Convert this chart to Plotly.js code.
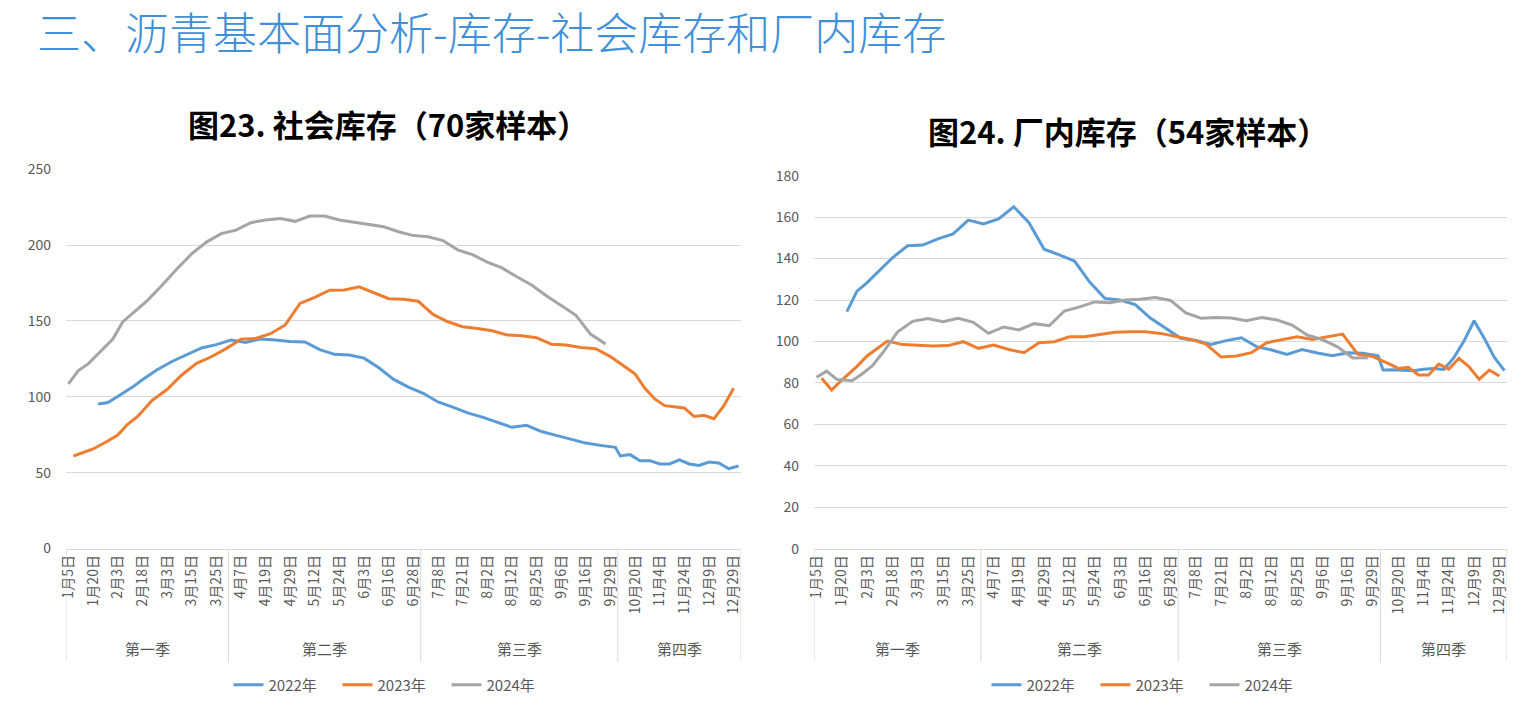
<!DOCTYPE html>
<html><head><meta charset="utf-8">
<script src="https://cdn.plot.ly/plotly-3.0.1.min.js"></script>
<style>html,body{margin:0;padding:0;background:#fff;} #chart{width:1537px;height:712px;}</style>
</head><body><div id="chart"></div>
<script>
// ---- axis structure ----
const dateLabels = ['1月5日','1月20日','2月3日','2月18日','3月3日','3月15日','3月25日','4月7日','4月19日','4月29日','5月12日','5月24日','6月3日','6月16日','6月28日','7月8日','7月21日','8月2日','8月12日','8月25日','9月6日','9月16日','9月29日','10月20日','11月4日','11月24日','12月9日','12月29日'];
const labelEvery = 5;          // a date label is shown on every 5th category
const categoryCount = 137;     // union of the weekly dates of all years
const quarterNames = ['第一季','第二季','第三季','第四季'];
const quarterStarts = [0, 33, 72, 112];
const seriesNames = ['2022年','2023年','2024年'];

// ---- category position of each weekly observation ----
const pos2022 = [6,8,10,13,15,18,21,24,27,30,33,36,39,42,45,48,51,54,57,60,63,66,69,72,75,78,81,84,87,90,93,96,99,102,105,108,111,112,114,116,118,120,122,124,126,128,130,132,134,136];
const pos2023 = [1,3,5,8,10,12,14,17,20,23,26,29,32,35,38,41,44,47,50,53,56,59,62,65,68,71,74,77,80,83,86,89,92,95,98,101,104,107,110,113,115,117,119,121,123,125,127,129,131,133,135];
const pos2024 = [0,2,4,7,9,11,13,16,19,22,25,28,31,34,37,40,43,46,49,52,55,58,61,64,67,70,73,76,79,82,85,88,91,94,97,100,103,106,109];

// ---- 图23 社会库存 (70家样本) ----
const social2022 = [95.3,96.2,100.2,106.4,111.3,117.9,123.3,128.0,132.2,134.4,137.4,135.9,138.1,137.4,136.4,136.2,131.1,128.0,127.6,125.5,119.2,111.5,106.4,102.3,96.6,93.2,89.4,86.6,83.2,79.9,81.2,77.1,74.6,72.1,69.5,68.0,66.7,61.0,61.9,57.9,57.9,55.7,55.7,58.4,55.7,54.8,57.0,56.4,52.6,54.4];
const social2023 = [61.0,63.1,65.6,70.9,74.8,81.9,86.9,97.7,104.8,114.4,122.1,126.4,131.8,137.9,138.5,141.6,147.4,161.6,165.6,170.3,170.4,172.5,168.5,164.7,164.3,163.0,154.3,149.5,146.2,145.1,143.5,140.8,140.3,139.0,134.7,134.2,132.5,131.7,126.5,119.3,115.1,105.6,98.6,94.2,93.4,92.6,87.0,87.8,85.6,94.0,105.6];
const social2024 = [108.5,117.3,121.7,131.7,138.1,149.4,154.9,163.4,173.5,184.3,194.2,202.0,207.6,209.9,214.8,216.6,217.5,215.7,219.2,219.2,216.6,215.0,213.7,212.1,208.8,206.3,205.5,203.0,196.9,193.7,188.8,185.0,179.2,173.7,166.7,160.1,153.7,141.2,134.9];

// ---- 图24 厂内库存 (54家样本) ----
const plant2022 = [114.4,124.3,128.4,135.5,140.4,146.2,146.5,149.5,151.9,158.6,156.7,159.1,165.0,157.3,144.5,141.8,138.8,128.7,120.8,120.0,117.8,111.3,106.2,101.5,100.5,98.6,100.4,101.8,97.5,95.9,93.8,96.1,94.4,93.1,94.6,94.3,93.1,86.2,86.4,86.2,85.9,86.6,86.9,86.5,92.2,100.2,110.0,101.6,92.3,85.9];
const plant2023 = [82.2,76.6,81.4,88.0,93.0,96.4,100.2,98.5,98.0,97.8,98.0,99.9,96.7,98.3,96.1,94.6,99.4,99.9,102.3,102.3,103.4,104.4,104.7,104.7,103.9,102.3,101.0,98.7,92.5,93.0,94.6,99.4,101.0,102.3,101.0,102.3,103.6,93.9,92.7,89.4,87.0,87.5,83.8,83.8,89.1,86.7,91.9,87.8,81.7,86.2,83.3];
const plant2024 = [82.7,85.7,81.7,81.1,84.3,88.2,94.3,104.5,109.7,111.1,109.5,111.2,109.2,103.9,107.0,105.6,108.6,107.6,114.7,116.7,119.1,118.7,120.0,120.4,121.2,119.8,113.8,111.2,111.6,111.3,110.0,111.6,110.4,107.9,103.1,100.9,97.4,92.0,92.2];

// ---- drawing ----
const W = 1537, H = 712;
const colors = ['#5B9BD5', '#ED7D31', '#A5A5A5'];
const FONT = '"Noto Sans CJK SC", "Noto Sans", sans-serif';
const TXT = '#595959';
const GRID = '#D9D9D9';

const positions = [pos2022, pos2023, pos2024];
const socialSets = [social2022, social2023, social2024];
const plantSets = [plant2022, plant2023, plant2024];

const traces = [];
socialSets.forEach((vals, k) => traces.push({
  x: positions[k], y: vals, type: 'scatter', mode: 'lines', name: seriesNames[k],
  line: {color: colors[k], width: 3}, xaxis: 'x', yaxis: 'y', legend: 'legend', hoverinfo: 'skip'
}));
plantSets.forEach((vals, k) => traces.push({
  x: positions[k], y: vals, type: 'scatter', mode: 'lines', name: seriesNames[k],
  line: {color: colors[k], width: 3}, xaxis: 'x2', yaxis: 'y2', legend: 'legend2', hoverinfo: 'skip'
}));

const px = v => v / W, py = v => 1 - v / H;
const tickVals = dateLabels.map((_, j) => j * labelEvery);

function xAxis(domain) {
  return {
    domain: domain, range: [-0.5, categoryCount - 0.5], tickmode: 'array',
    tickvals: tickVals, ticktext: dateLabels, tickangle: -90, ticks: '',
    showgrid: false, zeroline: false, showline: true, linecolor: GRID, linewidth: 1,
    tickfont: {family: FONT, size: 14, color: TXT}, fixedrange: true
  };
}
function yAxis(domain, top, step, anchor) {
  return {
    domain: domain, range: [0, top], dtick: step, anchor: anchor,
    showgrid: true, gridcolor: GRID, gridwidth: 1, zeroline: false, showline: false,
    ticks: '', ticklabelstandoff: 14,
    tickfont: {family: FONT, size: 14, color: TXT}, fixedrange: true
  };
}

const leftDom = [px(66), px(741)], rightDom = [px(814), px(1507)];
const leftY = [py(548.5), py(169.3)], rightY = [py(548.7), py(175.7)];

const shapes = [], annotations = [];
const bounds = quarterStarts.concat([categoryCount]);
[['x', leftY[0]], ['x2', rightY[0]]].forEach(([xr, yb]) => {
  bounds.forEach(b => shapes.push({
    type: 'line', xref: xr, yref: 'paper', x0: b - 0.5, x1: b - 0.5, y0: yb, y1: py(662),
    line: {color: GRID, width: 1}
  }));
  quarterNames.forEach((q, i) => annotations.push({
    xref: xr, yref: 'paper', x: (bounds[i] + bounds[i + 1]) / 2 - 0.5, y: py(648),
    text: q, showarrow: false, xanchor: 'center', yanchor: 'middle',
    font: {family: FONT, size: 15, color: TXT}
  }));
});

// page heading
annotations.push({
  xref: 'paper', yref: 'paper', x: px(35), y: py(31), xanchor: 'left', yanchor: 'middle',
  text: '三、沥青基本面分析-库存-社会库存和厂内库存', showarrow: false,
  font: {family: FONT, size: 44, color: '#3F8FD9', weight: 300}
});
annotations.push({
  xref: 'paper', yref: 'paper', x: px(388), y: py(124), xanchor: 'center', yanchor: 'middle',
  text: '<b>图23. 社会库存（70家样本）</b>', showarrow: false,
  font: {family: FONT, size: 31, color: '#000000'}
});
annotations.push({
  xref: 'paper', yref: 'paper', x: px(1128), y: py(130), xanchor: 'center', yanchor: 'middle',
  text: '<b>图24. 厂内库存（54家样本）</b>', showarrow: false,
  font: {family: FONT, size: 31, color: '#000000'}
});

const legendBase = {
  orientation: 'h', xanchor: 'center', yanchor: 'middle', y: py(685),
  font: {family: FONT, size: 15, color: TXT}, bgcolor: 'rgba(0,0,0,0)', traceorder: 'normal',
  entrywidth: 64, entrywidthmode: 'pixels'
};

const layout = {
  width: W, height: H, margin: {l: 0, r: 0, t: 0, b: 0},
  paper_bgcolor: '#ffffff', plot_bgcolor: '#ffffff',
  font: {family: FONT, color: TXT},
  xaxis: xAxis(leftDom), yaxis: yAxis(leftY, 250, 50, 'x'),
  xaxis2: Object.assign(xAxis(rightDom), {anchor: 'y2'}), yaxis2: yAxis(rightY, 180, 20, 'x2'),
  showlegend: true,
  legend: Object.assign({}, legendBase, {x: px(392)}),
  legend2: Object.assign({}, legendBase, {x: px(1150)}),
  shapes: shapes, annotations: annotations
};
layout.xaxis.anchor = 'y';

Plotly.newPlot('chart', traces, layout, {staticPlot: true, displayModeBar: false});
</script>
</body></html>
